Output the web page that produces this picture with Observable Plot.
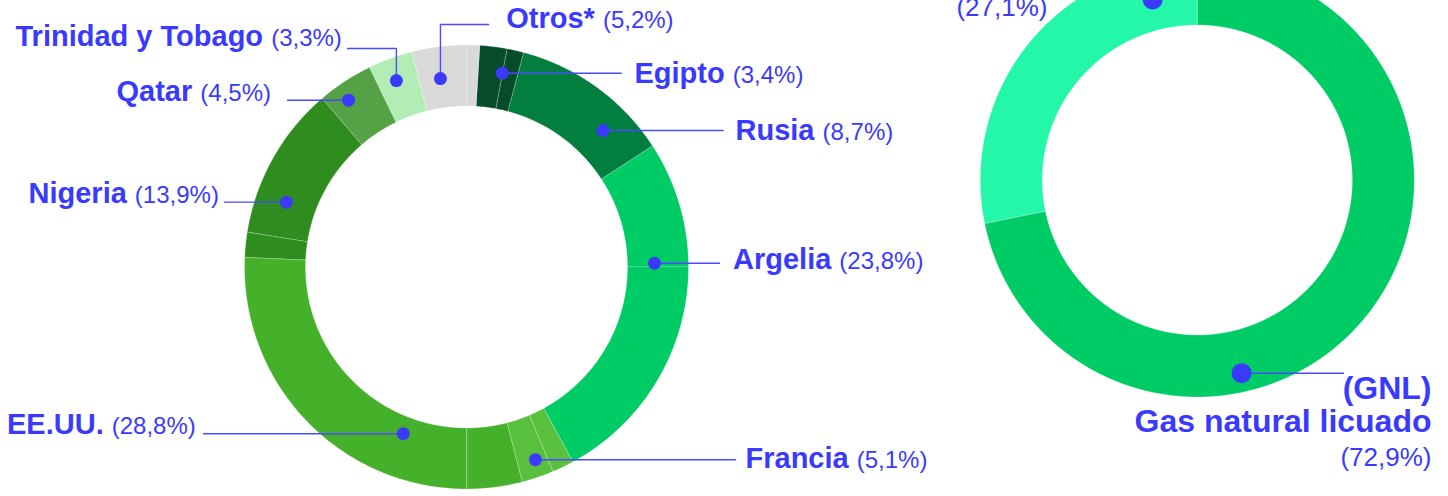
<!DOCTYPE html>
<html>
<head>
<meta charset="utf-8">
<script src="https://cdn.jsdelivr.net/npm/d3@7"></script>
<script src="https://cdn.jsdelivr.net/npm/@observablehq/plot@0.6"></script>
<style>
  html, body { margin: 0; padding: 0; background: #ffffff; }
  #chart { width: 1448px; height: 496px; overflow: hidden; }
</style>
</head>
<body>
<div id="chart"></div>
<script>
// ---------------- DATA ----------------
// Origin of gas imports (left ring), segments as drawn clockwise from 12 o'clock (share of ring, %)
const segOrigin = ["Otros*", "Egipto", "Egipto", "Rusia", "Argelia", "Argelia", "Francia", "Francia",
                   "EE.UU.", "EE.UU.", "Nigeria", "Nigeria", "Qatar", "Trinidad y Tobago", "Otros*"];
const segShare  = [0.97, 1.97, 1.22, 11.67, 9.17, 17.06, 1.58, 2.33, 4.03, 25.72, 1.81, 11.22, 4.06, 3.25, 3.94];

// Labelled origins and their stated shares (%)
const origins     = ["Otros*", "Trinidad y Tobago", "Qatar", "Nigeria", "EE.UU.", "Francia", "Argelia", "Rusia", "Egipto"];
const originShare = [5.2, 3.3, 4.5, 13.9, 28.8, 5.1, 23.8, 8.7, 3.4];

// Type of supply (right ring), drawn clockwise from 12 o'clock
const supplyType       = ["Gas natural licuado (GNL)", "Gas natural por gasoducto"];
const supplyShareDrawn = [71.8, 28.2];
const supplyShare      = [72.9, 27.1];

// ---------------- STYLE ----------------
const originColor = {
  "Otros*": "#d9d9d9", "Egipto": "#064b2a", "Rusia": "#027f3f", "Argelia": "#00cc66",
  "Francia": "#58c03d", "EE.UU.": "#45b02a", "Nigeria": "#2f8c1f", "Qatar": "#54a146",
  "Trinidad y Tobago": "#b3edb5"
};
const supplyColor = {"Gas natural licuado (GNL)": "#00cc66", "Gas natural por gasoducto": "#24f7aa"};
const BLUE = "#3a3aff", LINE = "#4a4aff";
const FONT = "'Liberation Sans', Arial, Helvetica, sans-serif";

// ---------------- LAYOUT ----------------
const W = 1448, H = 496;
const ringL = {cx: 466.5, cy: 267, r0: 161, r1: 222};
const ringR = {cx: 1197.3, cy: 180, r0: 155, r1: 217};

// annotation anchors (angle clockwise from top, radius) and label placement
const originLayout = {
  "Otros*":            {a: 352.0, r: 190.8, ly: 24,  lx: 488,   tx: 505.7, ty: 27},
  "Trinidad y Tobago": {a: 339.3, r: 199.8, ly: 48,  lx: 347,   tx: 15,    ty: 45},
  "Qatar":             {a: 324.7, r: 205,   ly: null, lx: 287,  tx: 116,   ty: 100.5},
  "Nigeria":           {a: 289.9, r: 192,   ly: null, lx: 224,  tx: 28,    ty: 202},
  "EE.UU.":            {a: 201.0, r: 178,   ly: null, lx: 203,  tx: 6.5,   ty: 433.5},
  "Francia":           {a: 160.4, r: 204,   ly: null, lx: 735,  tx: 745,   ty: 467.5},
  "Argelia":           {a: 88.7,  r: 187.6, ly: null, lx: 719,  tx: 732.5, ty: 268},
  "Rusia":             {a: 44.8,  r: 193,   ly: null, lx: 722.7, tx: 735,  ty: 139},
  "Egipto":            {a: 10.3,  r: 197.5, ly: null, lx: 620.7, tx: 634,  ty: 82}
};
const supplyLayout = {
  "Gas natural licuado (GNL)": {a: 167.2, r: 197.6},
  "Gas natural por gasoducto": {a: 346.0, r: 186.6}
};

const BOLD_L = 29, REG_L = 24, BOLD_R = 32, REG_R = 26;

// ---------------- HELPERS ----------------
const rad = d => d * Math.PI / 180;
const polar = (ring, a, r) => [ring.cx + r * Math.sin(rad(a)), ring.cy - r * Math.cos(rad(a))];

function ringPoints(names, shares, colorOf, ring, key) {
  const total = d3.sum(shares);
  const pts = [];
  let acc = 0;
  shares.forEach((s, i) => {
    const a0 = acc / total * 360, a1 = (acc + s) / total * 360;
    acc += s;
    const n = Math.max(2, Math.ceil((a1 - a0) / 0.4));
    for (let k = 0; k <= n; k++) {
      const a = a0 + (a1 - a0) * k / n;
      const [ox, oy] = polar(ring, a, ring.r1);
      const [ix, iy] = polar(ring, a, ring.r0);
      pts.push({seg: key + i, name: names[i], fill: colorOf[names[i]], ox, oy, ix, iy});
    }
  });
  return pts;
}

const ctx = document.createElement("canvas").getContext("2d");
function textWidth(str, weight, size) {
  ctx.font = `${weight} ${size}px ${FONT}`;
  return ctx.measureText(str).width;
}
const fmt = v => `(${v.toFixed(1).replace(".", ",")}%)`;

// ---------------- DERIVED MARK DATA ----------------
const arcs = ringPoints(segOrigin, segShare, originColor, ringL, "L")
  .concat(ringPoints(supplyType, supplyShareDrawn, supplyColor, ringR, "R"));

const dotsL = origins.map(o => {
  const L = originLayout[o];
  const [x, y] = polar(ringL, L.a, L.r);
  return {name: o, x, y};
});
const dotsR = supplyType.map(t => {
  const L = supplyLayout[t];
  const [x, y] = polar(ringR, L.a, L.r);
  return {name: t, x, y};
});

const leaders = [];
dotsL.forEach(d => {
  const L = originLayout[d.name];
  const ly = L.ly == null ? d.y : L.ly;
  leaders.push({id: d.name, x: d.x, y: d.y});
  leaders.push({id: d.name, x: d.x, y: ly});
  leaders.push({id: d.name, x: L.lx, y: ly});
});
{
  const g = dotsR[0];
  leaders.push({id: "GNL", x: g.x, y: g.y});
  leaders.push({id: "GNL", x: 1343, y: g.y});
}

const nameText = origins.map(o => {
  const L = originLayout[o];
  return {x: L.tx, y: L.ty, text: o};
});
const pctText = origins.map((o, i) => {
  const L = originLayout[o];
  return {x: L.tx + textWidth(o + " ", "bold", BOLD_L), y: L.ty, text: fmt(originShare[i])};
});

const rightBold = [
  {x: 1431, y: 398, text: "(GNL)"},
  {x: 1431, y: 431, text: "Gas natural licuado"}
];
const rightReg = [
  {x: 1431, y: 465, text: fmt(supplyShare[0])},
  {x: 1047, y: 15,  text: fmt(supplyShare[1])}
];

// ---------------- PLOT ----------------
const chart = Plot.plot({
  width: W,
  height: H,
  margin: 0,
  x: {domain: [0, W], range: [0, W], axis: null},
  y: {domain: [0, H], range: [0, H], axis: null},
  color: {type: "identity"},
  style: {fontFamily: FONT, background: "#ffffff", overflow: "hidden"},
  marks: [
    Plot.area(arcs, {x1: "ox", y1: "oy", x2: "ix", y2: "iy", z: "seg", fill: "fill",
      stroke: "#ffffff", strokeWidth: 0.5, strokeOpacity: 0.45, curve: "linear"}),
    Plot.line(leaders, {x: "x", y: "y", z: "id", stroke: LINE, strokeWidth: 1.4, curve: "linear"}),
    Plot.dot(dotsL, {x: "x", y: "y", r: 6.5, fill: BLUE, stroke: null}),
    Plot.dot(dotsR, {x: "x", y: "y", r: 10, fill: BLUE, stroke: null}),
    Plot.text(nameText, {x: "x", y: "y", text: "text", textAnchor: "start", lineAnchor: "bottom",
      fontSize: BOLD_L, fontWeight: "bold", fill: BLUE}),
    Plot.text(pctText, {x: "x", y: "y", text: "text", textAnchor: "start", lineAnchor: "bottom",
      fontSize: REG_L, fill: BLUE}),
    Plot.text(rightBold, {x: "x", y: "y", text: "text", textAnchor: "end", lineAnchor: "bottom",
      fontSize: BOLD_R, fontWeight: "bold", fill: BLUE}),
    Plot.text(rightReg, {x: "x", y: "y", text: "text", textAnchor: "end", lineAnchor: "bottom",
      fontSize: REG_R, fill: BLUE})
  ]
});
document.getElementById("chart").appendChild(chart);
</script>
</body>
</html>
